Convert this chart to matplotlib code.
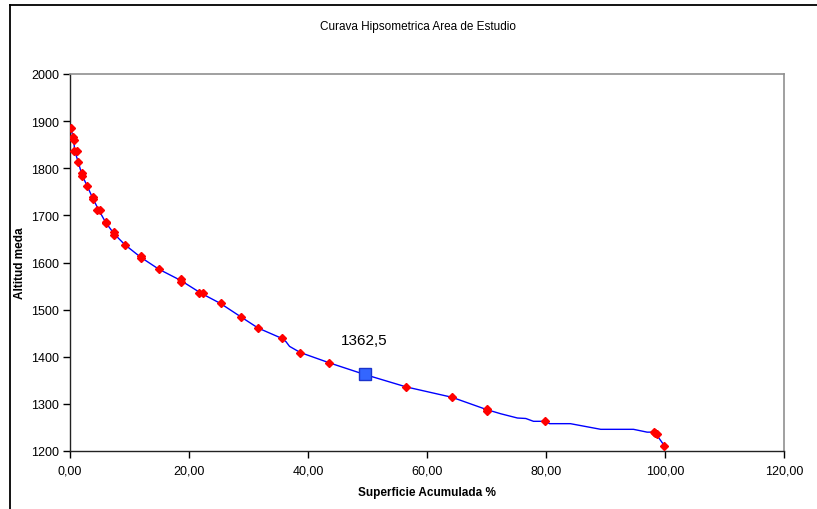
import matplotlib
matplotlib.use("Agg")
import matplotlib.pyplot as plt
from matplotlib.lines import Line2D
from matplotlib.ticker import FuncFormatter, MultipleLocator

plt.rcParams['font.family'] = ['Liberation Sans', 'DejaVu Sans']

# Blue line (full curve)
line_x = [0.1, 0.6, 0.8, 1.4, 2.0, 2.9, 3.8, 4.8, 6.0, 7.4, 9.2, 11.9, 14.9, 18.6,
          22.0, 25.3, 28.8, 31.6, 35.6, 36.3, 36.9, 38.7, 43.6, 49.5, 56.5, 64.2,
          70.0, 72.4, 75.2, 76.6, 77.9, 79.8, 80.6, 84.1, 89.2, 94.7, 97.0, 98.2,
          98.5, 99.9]
line_y = [1886, 1863, 1836, 1813, 1786, 1762, 1737, 1712, 1685, 1661, 1638, 1611,
          1586, 1562, 1535, 1513, 1484, 1461, 1439, 1432, 1422, 1409, 1387, 1362.5,
          1336, 1314, 1288, 1279, 1270, 1269, 1263, 1263, 1258, 1258, 1246, 1246,
          1240, 1240, 1236, 1211]

# Red diamond markers
mk_x = [0.1, 0.5, 0.6, 0.7, 1.1, 1.4, 2.0, 2.0, 2.9, 3.8, 3.8, 4.6, 5.1, 6.0, 6.0,
        7.4, 7.4, 9.2, 11.9, 11.9, 14.9, 18.6, 18.6, 21.7, 22.3, 25.3, 28.8, 31.6,
        35.6, 38.7, 43.6, 56.5, 64.2, 70.0, 70.0, 79.8, 98.1, 98.4, 98.6, 99.9]
mk_y = [1886, 1866, 1859, 1836, 1836, 1813, 1789, 1783, 1762, 1739, 1735, 1712,
        1712, 1687, 1683, 1664, 1658, 1638, 1613, 1609, 1586, 1565, 1559, 1536,
        1535, 1513, 1484, 1461, 1439, 1409, 1387, 1336, 1314, 1290, 1285, 1263,
        1240, 1238, 1236, 1211]

# Median altitude point
med_x = [49.5]
med_y = [1362.5]
med_label = "1362,5"

title = "Curava Hipsometrica Area de Estudio"
xlabel = "Superficie Acumulada %"
ylabel = "Altitud meda"

fig = plt.figure(figsize=(8.17, 5.10), dpi=100)
ax = fig.add_axes([70/817, 1 - 452/510, (784 - 70)/817, (452 - 75)/510])

ax.plot(line_x, line_y, color='#0000FF', lw=1.0, zorder=2)
ax.plot(mk_x, mk_y, linestyle='none', marker='D', markersize=4.5,
        color='#FF0000', markeredgecolor='#FF0000', zorder=3)
ax.plot(med_x, med_y, linestyle='none', marker='s', markersize=9,
        markerfacecolor='#3366FF', markeredgecolor='#1A33CC', zorder=4)
ax.annotate(med_label, xy=(med_x[0], med_y[0]), xytext=(0, 25),
            textcoords='offset points', ha='center', va='center', fontsize=11)

ax.set_xlim(0, 120)
ax.set_ylim(1200, 2000)
ax.xaxis.set_major_locator(MultipleLocator(20))
ax.yaxis.set_major_locator(MultipleLocator(100))
ax.xaxis.set_major_formatter(FuncFormatter(lambda v, p: f"{v:.2f}".replace('.', ',')))
ax.yaxis.set_major_formatter(FuncFormatter(lambda v, p: f"{int(v)}"))
ax.tick_params(axis='both', direction='out', length=5, width=1, labelsize=9,
               colors='black')
ax.tick_params(axis='x', pad=5)
ax.tick_params(axis='y', pad=3)

for s in ('left', 'bottom'):
    ax.spines[s].set_color('#222222')
    ax.spines[s].set_linewidth(1.0)
for s in ('top', 'right'):
    ax.spines[s].set_color('#909090')
    ax.spines[s].set_linewidth(1.2)

ax.set_xlabel(xlabel, fontsize=8.5, fontweight='bold')
ax.set_ylabel(ylabel, fontsize=8.5, fontweight='bold')
ax.xaxis.set_label_coords(0.5, -(493 - 452) / 377, transform=ax.transAxes)
ax.xaxis.label.set_va('center')
ax.yaxis.set_label_coords(-(70 - 20) / 714, 0.5, transform=ax.transAxes)
ax.yaxis.label.set_va('center')
fig.text(418/817, 1 - 27/510, title, ha='center', va='center', fontsize=8.5)

# Outer chart border (extends past right and bottom edges)
fig.add_artist(Line2D([10/817, 10/817], [0, 1 - 6/510], transform=fig.transFigure,
                      color='black', lw=1.3))
fig.add_artist(Line2D([10/817, 1], [1 - 6/510, 1 - 6/510], transform=fig.transFigure,
                      color='black', lw=1.3))

fig.savefig("out.png", dpi=100)
